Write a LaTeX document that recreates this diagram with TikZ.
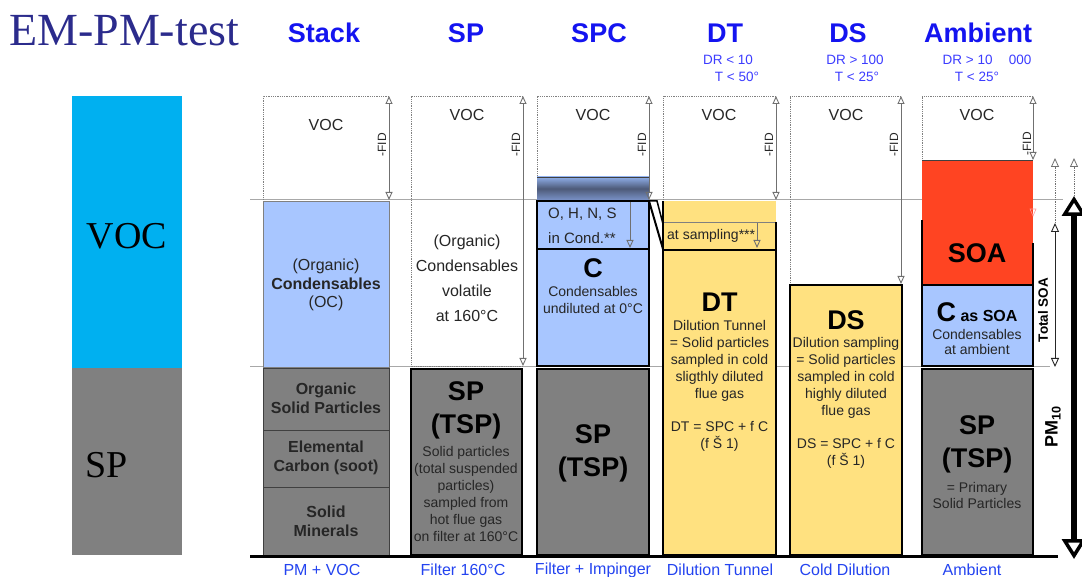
\documentclass[tikz,border=0pt]{standalone}
\usepackage{fontspec}
\setmainfont{Liberation Sans}
\newfontfamily\tnr{Liberation Serif}
\usetikzlibrary{arrows.meta}
\definecolor{hblue}{HTML}{1414F0}
\definecolor{sblue}{HTML}{3C3CFF}
\definecolor{bblue}{HTML}{2444F0}
\definecolor{ttl}{HTML}{2B2B8C}
\definecolor{cyanbar}{HTML}{00B0F0}
\definecolor{spgray}{HTML}{808080}
\definecolor{lblue}{HTML}{A8C6FF}
\definecolor{yel}{HTML}{FFE180}
\definecolor{soared}{HTML}{FF4422}
\definecolor{guide}{HTML}{A8A8A8}
\definecolor{tdark}{HTML}{262626}
\definecolor{fidgray}{HTML}{707070}
\definecolor{bandtop}{HTML}{8FAEE8}
\definecolor{bandmid}{HTML}{4D5A78}
\definecolor{bandbot}{HTML}{7A92C8}
\begin{document}
\begin{tikzpicture}[x=1pt,y=-1pt,
  hdr/.style={font=\fontsize{27}{30}\selectfont\bfseries, text=hblue, inner sep=0pt},
  subl/.style={font=\fontsize{13.5}{16}\selectfont, text=sblue, inner sep=0pt},
  botl/.style={font=\fontsize{16}{18}\selectfont, text=bblue, inner sep=0pt},
  vocl/.style={font=\fontsize{16}{19}\selectfont, text=tdark, inner sep=0pt},
  fidl/.style={font=\fontsize{12}{13}\selectfont, text=tdark, rotate=90, inner sep=0pt},
  midtxt/.style={font=\fontsize{16}{19}\selectfont, text=tdark, inner sep=0pt, align=center},
  midbold/.style={font=\fontsize{16}{19}\selectfont\bfseries, text=tdark, inner sep=0pt, align=center},
  smalltxt/.style={font=\fontsize{14}{17}\selectfont, text=tdark, inner sep=0pt, align=center},
  bigb/.style={font=\fontsize{27}{33}\selectfont\bfseries, text=black, inner sep=0pt, align=center},
  fidarrow/.style={draw=fidgray, line width=0.9pt, {Triangle[open,length=8pt,width=7pt]}-{Triangle[open,length=8pt,width=7pt]}},
  uparrow/.style={draw=fidgray, line width=0.8pt, densely dotted, -{Triangle[open,length=9pt,width=8pt,line width=0.8pt]}},
  dotbox/.style={draw=gray, densely dotted, line width=0.8pt},
  thickbox/.style={draw=black, line width=2.5pt}
]
\useasboundingbox (0,0) rectangle (1082,577);
\fill[white] (0,0) rectangle (1082,577);

% title and left bar
\node[anchor=west, font=\tnr\fontsize{46}{50}\selectfont, text=ttl, inner sep=0pt] (title) at (9,31) {EM-PM-test};
\fill[cyanbar] (72,96) rectangle (182,368);
\fill[spgray] (72,368) rectangle (182,555);
\node[font=\tnr\fontsize{38}{42}\selectfont, inner sep=0pt] (lvoc) at (127,236) {VOC};
\node[font=\tnr\fontsize{38}{42}\selectfont, inner sep=0pt] (lsp) at (107,465) {SP};

% guide lines
\draw[guide, line width=1pt] (250,200) -- (1063,200);
\draw[guide, line width=1pt] (250,367) -- (1050,367);

% headers
\node[hdr] (hstack) at (324,33) {Stack};
\node[hdr] (hsp) at (466,33) {SP};
\node[hdr] (hspc) at (599,33) {SPC};
\node[hdr] (hdt) at (725,33) {DT};
\node[hdr] (hds) at (848,33) {DS};
\node[hdr] (hamb) at (978,33) {Ambient};
\node[subl] (dr1) at (728,60) {DR < 10};
\node[subl] (t1) at (737,77) {T < 50°};
\node[subl] (dr2) at (855,60) {DR > 100};
\node[subl] (t2) at (857,77) {T < 25°};
\node[subl] (dr3) at (987,60) {DR > 10\hspace{1.2em}000};
\node[subl] (t3) at (977,77) {T < 25°};

% ---------- Stack column
\draw[dotbox] (389,96) -- (263,96) -- (263,200);
\filldraw[fill=lblue, draw=gray] (263,201) rectangle (389,367);
\filldraw[fill=spgray, draw=darkgray] (263,368) rectangle (389,555);
\draw[darkgray] (263,430) -- (389,430);
\draw[darkgray] (263,487) -- (389,487);
\draw[fidarrow] (389,96) -- (389,200);
\node[fidl] (fid1) at (382,145) {-FID};
\node[vocl] (voc1) at (326,125) {VOC};
\node[midtxt] (oc1) at (326,266) {(Organic)};
\node[midbold] (oc2) at (326,284) {Condensables};
\node[midtxt] (oc3) at (326,303) {(OC)};
\node[midbold] (osp) at (326,398) {Organic\\Solid Particles};
\node[midbold] (ec) at (326,458) {Elemental\\Carbon (soot)};
\node[midbold] (sm) at (326,521) {Solid\\Minerals};

% ---------- SP column
\draw[dotbox] (523,96) -- (411,96) -- (411,366) -- (523,366);
\draw[fidarrow] (523,96) -- (523,366);
\node[fidl] (fid2) at (516,145) {-FID};
\node[vocl] (voc2) at (467,115) {VOC};
\node[midtxt, font=\fontsize{16}{25}\selectfont] (cv) at (467,278) {(Organic)\\Condensables\\volatile\\at 160°C};
\filldraw[fill=spgray, thickbox] (411,369) rectangle (522,555);
\node[bigb] (sp2) at (466,410) {SP\\(TSP)};
\node[smalltxt] (sp2t) at (466,494) {Solid particles\\(total suspended\\particles)\\sampled from\\hot flue gas\\on filter at 160°C};

% ---------- SPC column
\draw[dotbox] (649,96) -- (537,96) -- (537,177);
\shade[top color=bandtop, bottom color=bandbot, middle color=bandmid] (537,177) rectangle (649,200);
\draw[darkgray, line width=0.6pt] (537,177) -- (649,177);
\draw[fidarrow] (649,96) -- (649,200);
\node[fidl] (fid3) at (642,145) {-FID};
\node[vocl] (voc3) at (593,115) {VOC};
\filldraw[fill=lblue, draw=black, line width=1.3pt] (537,201) rectangle (649,249);
\filldraw[fill=lblue, draw=black, line width=1.6pt] (537,249) rectangle (649,366);
\draw[fidgray, line width=0.9pt, -{Triangle[open,length=8pt,width=7pt]}] (630,202) -- (630,248);
\node[font=\fontsize{15}{25}\selectfont, text=tdark, align=left, anchor=west, inner sep=0pt] (ohns) at (548,226) {O, H, N, S\\in Cond.**};
\node[bigb] (c3) at (593,268) {C};
\node[smalltxt] (c3t) at (593,300) {Condensables\\undiluted at 0°C};
\filldraw[fill=spgray, draw=black, line width=2pt] (537,369) rectangle (649,555);
\node[bigb] (sp3) at (593,453) {SP\\(TSP)};

% wedge between SPC and DT
\draw[black, line width=2pt] (649,201) -- (663,249);
\draw[black, line width=1.5pt] (649,201) -- (657,201) -- (663,224);

% ---------- DT column
\draw[dotbox] (776,96) -- (663,96) -- (663,200);
\draw[fidarrow] (776,96) -- (776,200);
\node[fidl] (fid4) at (769,145) {-FID};
\node[vocl] (voc4) at (719,115) {VOC};
\fill[yel] (663,201) rectangle (776,249);
\draw[gray, line width=0.6pt] (663,222) -- (776,222);
\draw[black, line width=1.3pt] (663,201) -- (663,249);
\draw[black, line width=1.3pt] (776,222) -- (776,249);
\draw[fidgray, line width=0.9pt, -{Triangle[open,length=8pt,width=7pt]}] (757,223) -- (757,248);
\node[font=\fontsize{14}{17}\selectfont, text=tdark, anchor=west, inner sep=0pt] (atsamp) at (667,236) {at sampling***};
\filldraw[fill=yel, thickbox] (663,250) rectangle (776,555);
\node[bigb] (dt) at (719.5,302) {DT};
\node[smalltxt] (dtt) at (719.5,361) {Dilution Tunnel\\= Solid particles\\sampled in cold\\sligthly diluted\\flue gas};
\node[smalltxt] (dte) at (719.5,436) {DT = SPC + f C\\(f Š 1)};

% ---------- DS column
\draw[dotbox] (901,96) -- (790,96) -- (790,284);
\draw[fidarrow] (901,96) -- (901,284);
\node[fidl] (fid5) at (894,145) {-FID};
\node[vocl] (voc5) at (846,115) {VOC};
\filldraw[fill=yel, thickbox] (790,285) rectangle (902,555);
\node[bigb] (ds) at (846,320) {DS};
\node[smalltxt] (dst) at (846,378) {Dilution sampling\\= Solid particles\\sampled in cold\\highly diluted\\flue gas};
\node[smalltxt] (dse) at (846,453) {DS = SPC + f C\\(f Š 1)};

% ---------- Ambient column
\draw[dotbox] (1033,96) -- (922,96) -- (922,160);
\fill[soared] (922,160) rectangle (1033,284);
\draw[darkgray, line width=0.8pt] (922,160) -- (1033,160);
\draw[black, line width=2pt] (922,220) -- (922,284);
\draw[black, line width=2pt] (1033,243) -- (1033,284);
\draw[fidarrow] (1033,96) -- (1033,160);
\node[fidl] (fid6) at (1027,144) {-FID};
\node[vocl] (voc6) at (977,115) {VOC};
\draw[draw=pink!80!red, line width=0.6pt] (1030,209) -- (1036,209) -- (1033,216) -- cycle;
\node[bigb] (soa) at (977,253) {SOA};
\filldraw[fill=lblue, thickbox] (922,285) rectangle (1033,366);
\node[inner sep=0pt, text=black, font=\bfseries] (cas) at (977,312) {\fontsize{27}{30}\selectfont C\,\fontsize{16}{19}\selectfont as SOA};
\node[smalltxt, font=\fontsize{14}{15.5}\selectfont] (cast) at (977,342) {Condensables\\at ambient};
\filldraw[fill=spgray, thickbox] (922,369) rectangle (1033,555);
\node[bigb] (sp6) at (977,444) {SP\\(TSP)};
\node[smalltxt, font=\fontsize{14}{16}\selectfont] (sp6t) at (977,495) {= Primary\\Solid Particles};

% ---------- right arrows
\coordinate (tsTop) at (1055,223);
\coordinate (tsBot) at (1055,367);
\coordinate (tsUp) at (1055,158);
\coordinate (pmTop) at (1074,196);
\coordinate (pmBot) at (1074,559);
\coordinate (pmUp) at (1074,158);
\draw[uparrow] (tsTop) -- (tsUp);
\draw[uparrow] (pmTop) -- (pmUp);
\draw[draw=tdark, line width=0.9pt, {Triangle[open,length=9pt,width=8pt]}-{Triangle[open,length=9pt,width=8pt]}] (tsTop) -- (tsBot);
\draw[black, line width=6pt, {Triangle[open,length=20pt,width=24pt,line width=3.5pt]}-{Triangle[open,length=20pt,width=24pt,line width=3.5pt]}] (pmTop) -- (pmBot);
\node[font=\fontsize{13.5}{15}\selectfont\bfseries, rotate=90, inner sep=0pt] (tsoa) at (1043,310) {Total SOA};
\node[font=\fontsize{18}{20}\selectfont\bfseries, rotate=90, inner sep=0pt] (pm10) at (1053,427) {PM$_{\mathbf{10}}$};

% baseline
\draw[black, line width=3pt] (250,556) -- (1058,556);

% bottom labels
\node[botl] (b1) at (322,570) {PM + VOC};
\node[botl] (b2) at (463,570) {Filter 160°C};
\node[botl] (b3) at (593,570) {Filter + Impinger};
\node[botl] (b4) at (720,570) {Dilution Tunnel};
\node[botl] (b5) at (845,570) {Cold Dilution};
\node[botl] (b6) at (972,570) {Ambient};
\end{tikzpicture}
\end{document}
